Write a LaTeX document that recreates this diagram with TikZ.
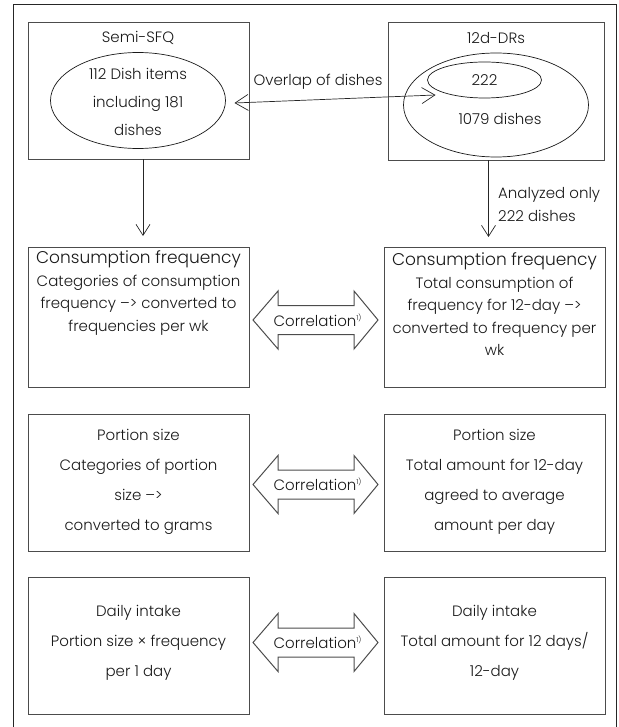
\documentclass[tikz,border=0pt]{standalone}
\usepackage{fontspec}
\setmainfont{Poppins Light}
\usetikzlibrary{arrows.meta,shapes.geometric}
\begin{document}
\begin{tikzpicture}[x=1pt,y=-1pt,
  frame/.style={draw=black!85, line width=0.9pt},
  box/.style={draw=black!70, line width=1pt, rectangle, inner sep=0pt, outer sep=0pt},
  ell/.style={draw=black!90, line width=0.7pt, ellipse, inner sep=0pt, outer sep=0pt},
  con/.style={draw=black!85, line width=0.7pt},
  vtip/.style={-{Straight Barb[length=11pt,width=14pt,line width=0.7pt]}},
  vtips/.style={{Straight Barb[length=13pt,width=16pt,line width=0.7pt]}-{Straight Barb[length=13pt,width=16pt,line width=0.7pt]}},
  txt/.style={text=black!90, align=center, inner sep=0pt, font=\fontsize{15}{28}\selectfont},
  txtb/.style={txt, font=\fontsize{15}{22.5}\selectfont},
  txtc/.style={txt, font=\fontsize{15}{30}\selectfont},
  corr/.pic={
    \draw[box] (-62.5,0) -- (-37.5,-29) -- (-37.5,-14.5) -- (38.5,-14.5) -- (38.5,-29) -- (62.5,0)
      -- (38.5,29) -- (38.5,14.5) -- (-37.5,14.5) -- (-37.5,29) -- cycle;
    \node[txt] (-t) at (2,0) {Correlation\raisebox{6pt}{\fontsize{7}{7}\selectfont 1)}};
  }]
\useasboundingbox (0,0) rectangle (618,727);
\draw[frame] (13.5,727) -- (13.5,4.5) -- (616.5,4.5) -- (616.5,727);

% top row
\node[box, minimum width=221pt, minimum height=136.5pt] (sfq) at (138.5,91.25) {};
\node[box, minimum width=216pt, minimum height=137.5pt] (drs) at (496,91.75) {};
\node[txt] (sfqt) at (138,38) {Semi-SFQ};
\node[txt] (drst) at (496,38) {12d-DRs};
\node[ell, minimum width=175pt, minimum height=96pt] (eA) at (138,100.5) {};
\node[txt] (eAt) at (138,102) {112 Dish items\\including 181\\dishes};
\node[ell, minimum width=185pt, minimum height=104pt] (eB) at (496,105) {};
\node[ell, minimum width=114pt, minimum height=36pt] (eBi) at (484.5,80) {};
\node[txt] (eBit) at (484.5,80) {222};
\node[txt] (eBt) at (500,119) {1079 dishes};

\coordinate (ovl) at (234.5,103);
\coordinate (ovr) at (435.5,95);
\draw[con, vtips] (ovl) -- (ovr);
\node[txt] (ovt) at (318,82) {Overlap of dishes};

% rows
\node[box, minimum width=221pt, minimum height=140pt] (cfL) at (138.5,317) {};
\node[box, minimum width=221pt, minimum height=140pt] (cfR) at (494.5,317) {};
\node[box, minimum width=221pt, minimum height=137pt] (psL) at (138.5,482.5) {};
\node[box, minimum width=221pt, minimum height=137pt] (psR) at (494.5,482.5) {};
\node[box, minimum width=221pt, minimum height=137pt] (diL) at (138.5,645.5) {};
\node[box, minimum width=221pt, minimum height=137pt] (diR) at (494.5,645.5) {};

\coordinate (dl) at (143,236);
\coordinate (dr) at (488.5,237);
\draw[con, vtip] (sfq.south -| dl) -- (dl);
\draw[con, vtip] (drs.south -| dr) -- (dr);
\node[txt, align=left, anchor=west, font=\fontsize{15}{23}\selectfont] (ana) at (498,205) {Analyzed only\\222 dishes};

\node[txtb] (cfLt) at (138.5,293) {{\fontsize{17}{22.5}\selectfont Consumption frequency}\\Categories of consumption\\frequency –> converted to\\frequencies per wk};
\node[txtb] (cfRt) at (494.5,304.5) {{\fontsize{17}{22.5}\selectfont Consumption frequency}\\Total consumption of\\frequency for 12-day –>\\converted to frequency per\\wk};
\node[txtc] (psLt) at (138.5,482) {Portion size\\Categories of portion\\size –>\\converted to grams};
\node[txtc] (psRt) at (494.5,482) {Portion size\\Total amount for 12-day\\agreed to average\\amount per day};
\node[txtc] (diLt) at (138.5,643) {Daily intake\\Portion size × frequency\\per 1 day};
\node[txtc] (diRt) at (494.5,643) {Daily intake\\Total amount for 12 days/\\12-day};

\pic (c1) at (315.5,320) {corr};
\pic (c2) at (315.5,484.5) {corr};
\pic (c3) at (315.5,642.5) {corr};
\end{tikzpicture}
\end{document}
